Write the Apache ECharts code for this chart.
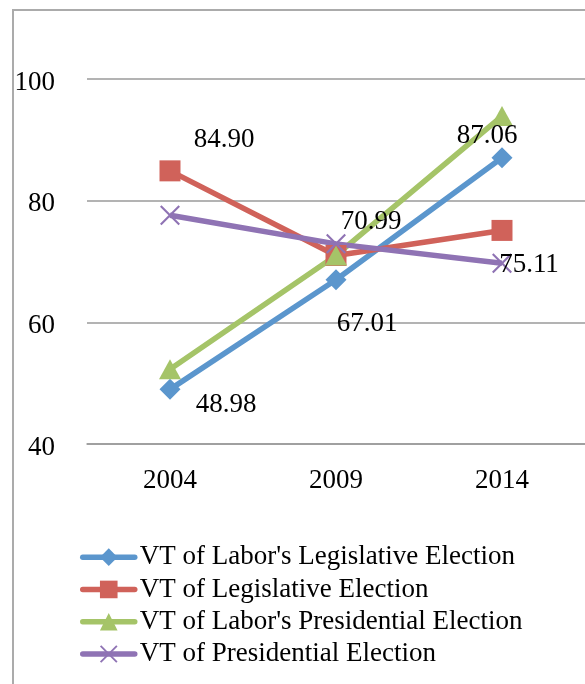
<!DOCTYPE html>
<html>
<head>
<meta charset="utf-8">
<script src="https://cdn.jsdelivr.net/npm/echarts@6/dist/echarts.min.js"></script>
<style>
  html, body { margin: 0; padding: 0; background: #fff; }
  #frame { position: absolute; left: 12px; top: 9px; width: 600px; height: 700px;
           border-left: 2px solid #ababab; border-top: 2px solid #ababab; }
  #chart { position: absolute; left: 0; top: 0; width: 585px; height: 684px; }
</style>
</head>
<body>
<div id="frame"></div>
<div id="chart"></div>
<script>
// ---- data ----
const categories = ['2004', '2009', '2014'];
const seriesNames = [
  "VT of Labor's Legislative Election",
  "VT of Legislative Election",
  "VT of Labor's Presidential Election",
  "VT of Presidential Election"
];
const laborLegislative = [48.98, 67.01, 87.06];
const legislative = [84.90, 70.99, 75.11];
const laborPresidential = [52.3, 71.0, 93.9];
const presidential = [77.6, 72.9, 69.7];
const yTicks = { min: 40, max: 100, interval: 20 };

// ---- styling / label placement (not data) ----
const FONT = 'Liberation Serif';
const colors = ['#5B96CD', '#D0625A', '#A5C468', '#8F73B4'];
const blueLabelOffsets = [[56, 16], [31, 44], [-15, -22]];
const redLabelOffsets = [[54, -31], [35, -34], [27, 34]];
const xPath = 'path://M0,1.5L1.5,0L10,8.5L18.5,0L20,1.5L11.5,10L20,18.5L18.5,20L10,11.5L1.5,20L0,18.5L8.5,10Z';

function labeled(values, offsets) {
  return values.map((v, i) => ({
    value: v,
    label: {
      show: true, position: 'inside', offset: offsets[i],
      formatter: (p) => p.value.toFixed(2),
      color: '#000', fontFamily: FONT, fontSize: 27
    }
  }));
}

const chart = echarts.init(document.getElementById('chart'), null, { renderer: 'canvas' });
const base = { type: 'line', lineStyle: { width: 5.5 }, showSymbol: true, animation: false };

chart.setOption({
  animation: false,
  color: colors,
  grid: { left: 87, right: -2.5, top: 79, bottom: 240, containLabel: false },
  legend: {
    orient: 'vertical', left: 80, top: 541, padding: 0,
    itemWidth: 52, itemHeight: 22, itemGap: 0,
    lineStyle: { width: 5.5, cap: 'round' },
    textStyle: { fontFamily: FONT, fontSize: 27, color: '#000', lineHeight: 32.3 },
    data: seriesNames
  },
  xAxis: {
    type: 'category', data: categories, boundaryGap: true,
    axisLine: { show: true, lineStyle: { color: '#9a9a9a', width: 1.5 } },
    axisTick: { show: false },
    axisLabel: { fontFamily: FONT, fontSize: 27, color: '#000', margin: 23 }
  },
  yAxis: {
    type: 'value', min: yTicks.min, max: yTicks.max, interval: yTicks.interval,
    axisLine: { show: false }, axisTick: { show: false },
    splitLine: { lineStyle: { color: '#9a9a9a', width: 1.5 } },
    axisLabel: {
      margin: 32,
      formatter: (v) => '{t|' + v + '}',
      rich: { t: { fontFamily: FONT, fontSize: 27, color: '#000', padding: [7, 0, 0, 0] } }
    }
  },
  series: [
    Object.assign({}, base, { name: seriesNames[0], symbol: 'diamond', symbolSize: 21,
      data: labeled(laborLegislative, blueLabelOffsets) }),
    Object.assign({}, base, { name: seriesNames[1], symbol: 'rect', symbolSize: 21,
      data: labeled(legislative, redLabelOffsets) }),
    Object.assign({}, base, { name: seriesNames[2], symbol: 'triangle', symbolSize: [22, 20],
      data: laborPresidential }),
    Object.assign({}, base, { name: seriesNames[3], symbol: xPath, symbolSize: 20,
      data: presidential })
  ]
});
</script>
</body>
</html>
